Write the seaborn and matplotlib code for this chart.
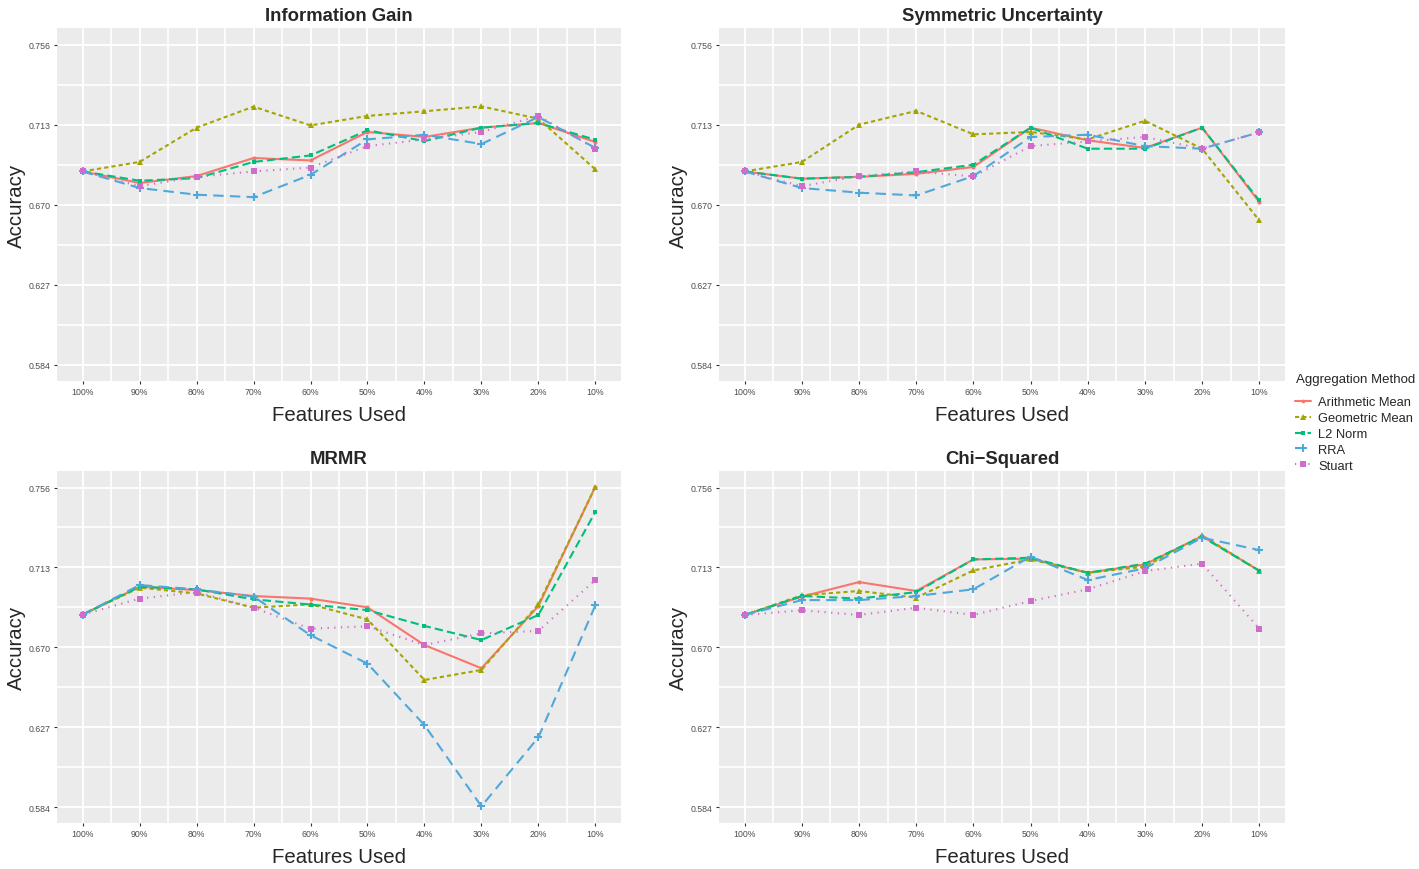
import matplotlib
matplotlib.use("Agg")
import matplotlib.pyplot as plt
from matplotlib.lines import Line2D
from matplotlib.ticker import MultipleLocator, FixedLocator
import seaborn as sns
import pandas as pd

features = ['100%', '90%', '80%', '70%', '60%', '50%', '40%', '30%', '20%', '10%']
methods = ['Arithmetic Mean', 'Geometric Mean', 'L2 Norm', 'RRA', 'Stuart']

# accuracy per panel, one list per aggregation method
info_gain = {
    'Arithmetic Mean': [0.6879, 0.6817, 0.6854, 0.6951, 0.6938, 0.7091, 0.7064, 0.7114, 0.7139, 0.7037],
    'Geometric Mean':  [0.6879, 0.6930, 0.7114, 0.7227, 0.7126, 0.7177, 0.7202, 0.7228, 0.7162, 0.6890],
    'L2 Norm':         [0.6879, 0.6829, 0.6843, 0.6930, 0.6965, 0.7100, 0.7042, 0.7114, 0.7139, 0.7049],
    'RRA':             [0.6879, 0.6790, 0.6754, 0.6741, 0.6861, 0.7051, 0.7076, 0.7026, 0.7171, 0.7005],
    'Stuart':          [0.6879, 0.6800, 0.6850, 0.6879, 0.6900, 0.7015, 0.7051, 0.7091, 0.7177, 0.7001],
}
sym_unc = {
    'Arithmetic Mean': [0.6879, 0.6840, 0.6850, 0.6866, 0.6903, 0.7114, 0.7046, 0.7005, 0.7114, 0.6715],
    'Geometric Mean':  [0.6879, 0.6930, 0.7130, 0.7204, 0.7078, 0.7091, 0.7051, 0.7151, 0.7001, 0.6616],
    'L2 Norm':         [0.6879, 0.6840, 0.6850, 0.6875, 0.6915, 0.7114, 0.7001, 0.7001, 0.7114, 0.6723],
    'RRA':             [0.6879, 0.6790, 0.6765, 0.6750, 0.6854, 0.7064, 0.7076, 0.7015, 0.7001, 0.7089],
    'Stuart':          [0.6879, 0.6800, 0.6854, 0.6879, 0.6852, 0.7015, 0.7040, 0.7064, 0.7001, 0.7089],
}
mrmr = {
    'Arithmetic Mean': [0.6876, 0.7026, 0.7008, 0.6976, 0.6962, 0.6915, 0.6712, 0.6587, 0.6922, 0.7564],
    'Geometric Mean':  [0.6876, 0.7021, 0.6990, 0.6913, 0.6931, 0.6850, 0.6524, 0.6578, 0.6931, 0.7564],
    'L2 Norm':         [0.6876, 0.7026, 0.7012, 0.6958, 0.6930, 0.6900, 0.6815, 0.6739, 0.6874, 0.7429],
    'RRA':             [0.6876, 0.7035, 0.7012, 0.6973, 0.6765, 0.6612, 0.6281, 0.5844, 0.6215, 0.6926],
    'Stuart':          [0.6876, 0.6962, 0.6997, 0.6913, 0.6800, 0.6813, 0.6712, 0.6775, 0.6788, 0.7062],
}
chi_sq = {
    'Arithmetic Mean': [0.6874, 0.6973, 0.7051, 0.7003, 0.7173, 0.7177, 0.7101, 0.7146, 0.7298, 0.7112],
    'Geometric Mean':  [0.6874, 0.6980, 0.7003, 0.6967, 0.7114, 0.7173, 0.7101, 0.7134, 0.7302, 0.7112],
    'L2 Norm':         [0.6874, 0.6976, 0.6962, 0.6997, 0.7173, 0.7182, 0.7101, 0.7150, 0.7295, 0.7112],
    'RRA':             [0.6874, 0.6954, 0.6954, 0.6976, 0.7012, 0.7188, 0.7062, 0.7125, 0.7290, 0.7223],
    'Stuart':          [0.6874, 0.6899, 0.6874, 0.6913, 0.6874, 0.6949, 0.7012, 0.7110, 0.7150, 0.6800],
}
panels = [('Information Gain', info_gain), ('Symmetric Uncertainty', sym_unc),
          ('MRMR', mrmr), ('Chi\u2212Squared', chi_sq)]
y_ticks = [0.584, 0.627, 0.670, 0.713, 0.756]

colors = ['#F8766D', '#A3A500', '#00BF7D', '#4FA8DC', '#D06CCB']
palette = dict(zip(methods, colors))
markers = dict(zip(methods, ['o', '^', 's', 'P', 's']))
marker_sizes = dict(zip(methods, [3, 4.5, 3.5, 6, 5]))
dash_styles = dict(zip(methods, ['', (2, 1.5), (4, 2), (5, 3), (0.6, 2.6)]))

sns.set_theme(style='darkgrid', rc={
    'axes.facecolor': '#EBEBEB', 'grid.color': 'white',
})
plt.rcParams['font.family'] = ['Liberation Sans', 'DejaVu Sans']

fig = plt.figure(figsize=(14.19, 8.70), dpi=100)
W, H = 1419, 870
boxes = [(57, 29, 621, 382), (719, 29, 1285, 382),
         (57, 472, 621, 824), (719, 472, 1285, 824)]

for (title, d), (x0, y0, x1, y1) in zip(panels, boxes):
    ax = fig.add_axes([x0 / W, 1 - y1 / H, (x1 - x0) / W, (y1 - y0) / H])
    rows = []
    for m in methods:
        for f, v in zip(features, d[m]):
            rows.append({'Features Used': f, 'Accuracy': v, 'Aggregation Method': m})
    df = pd.DataFrame(rows)
    sns.lineplot(data=df, x='Features Used', y='Accuracy', hue='Aggregation Method',
                 style='Aggregation Method', hue_order=methods, style_order=methods,
                 palette=palette, markers=markers, dashes=dash_styles,
                 linewidth=1.5, markeredgewidth=0, legend=False, ax=ax, sort=False)
    for line, m in zip(ax.lines, methods):
        line.set_markersize(marker_sizes[m])
        if m == 'RRA':
            line.set_marker('+')
            line.set_markeredgewidth(1.5)
            line.set_markeredgecolor(palette[m])
        line.set_solid_capstyle('butt')

    ax.set_xlim(-0.45, 9.45)
    ax.set_ylim(0.5754, 0.7649)
    ax.yaxis.set_major_locator(FixedLocator(y_ticks))
    ax.yaxis.set_minor_locator(FixedLocator([0.6055, 0.6485, 0.6915, 0.7345]))
    ax.set_yticklabels(['%.3f' % t for t in y_ticks])
    ax.xaxis.set_minor_locator(MultipleLocator(0.5))
    ax.grid(which='major', color='white', linewidth=1.3)
    ax.grid(which='minor', color='white', linewidth=1.2)
    ax.tick_params(which='major', length=2.5, width=0.8, color='#333333',
                   labelsize=6.3, labelcolor='#4D4D4D', pad=2, bottom=True, left=True)
    ax.tick_params(which='minor', length=0)
    for s in ax.spines.values():
        s.set_visible(False)
    ax.set_title(title, fontsize=13.3, fontweight='bold', pad=6)
    ax.set_xlabel('Features Used', fontsize=14.7, labelpad=6)
    ax.set_ylabel('Accuracy', fontsize=14.7, labelpad=2)

handles = [Line2D([], [], color=palette[m], marker=('+' if m == 'RRA' else markers[m]),
                  markersize=marker_sizes[m] * 0.9, markeredgewidth=(1.4 if m == 'RRA' else 0),
                  linewidth=1.5, dashes=(dash_styles[m] if dash_styles[m] else (None, None)))
           for m in methods]
fig.text(1296 / W, 1 - 380 / H, 'Aggregation Method', fontsize=9.5, va='center', ha='left')
fig.legend(handles, methods, loc='upper left',
           bbox_to_anchor=(1290 / W, 1 - 392 / H), frameon=False, fontsize=9.3,
           handlelength=1.2, handletextpad=0.6, labelspacing=0.3, borderaxespad=0)

fig.savefig('out.png', dpi=100)
